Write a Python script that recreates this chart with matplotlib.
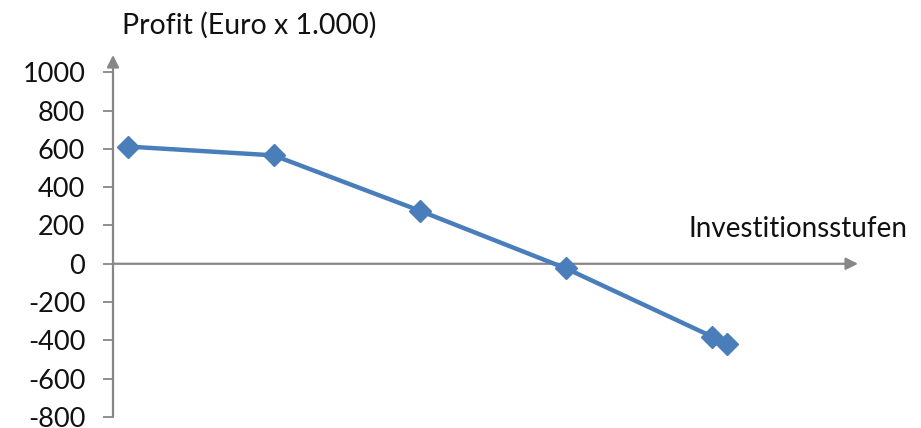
import matplotlib.pyplot as plt

plt.rcParams["font.family"] = ["Lato", "DejaVu Sans"]
plt.rcParams["axes.unicode_minus"] = False

# Investment stages and the resulting profit (Euro x 1.000)
stufen = [1, 2, 3, 4, 5, 5.1]
profit = [612, 566, 277, -24, -380, -417]
y_ticks = [-800, -600, -400, -200, 0, 200, 400, 600, 800, 1000]

AXIS_GRAY = "#878787"
LINE_BLUE = "#4A7EBB"

W, H = 921, 428
fig = plt.figure(figsize=(W / 100, H / 100), dpi=100)
ax = fig.add_axes([113 / W, 1 - 417 / H, (858 - 113) / W, (417 - 55) / H])

x0, x1 = 0.9, 6.0
ax.set_xlim(x0, x1)
ax.set_ylim(-800, 1090)

for s in ax.spines.values():
    s.set_visible(False)

# axes drawn as arrows: vertical through x0, horizontal through zero
arrow = dict(arrowstyle="-|>", color=AXIS_GRAY, lw=1.6, mutation_scale=18,
             shrinkA=0, shrinkB=0)
ax.annotate("", xy=(x0, 1090), xytext=(x0, -800), arrowprops=arrow,
            annotation_clip=False)
ax.annotate("", xy=(x1, 0), xytext=(x0, 0), arrowprops=arrow,
            annotation_clip=False)

ax.set_xticks([])
ax.set_yticks(y_ticks)
ax.tick_params(axis="y", direction="out", length=7, width=1.3,
               color=AXIS_GRAY, labelsize=19.5, pad=13, labelcolor="#111111")

ax.plot(stufen, profit, color=LINE_BLUE, lw=3.2, marker="D", markersize=11,
        markeredgecolor=LINE_BLUE, clip_on=False, zorder=5)

fig.text(122 / W, 1 - 25 / H, "Profit (Euro x 1.000)", fontsize=20.5,
         ha="left", va="center", color="#111111")
fig.text(907 / W, 1 - 229 / H, "Investitionsstufen", fontsize=20,
         ha="right", va="center", color="#111111")

fig.savefig("out.png", dpi=100)
